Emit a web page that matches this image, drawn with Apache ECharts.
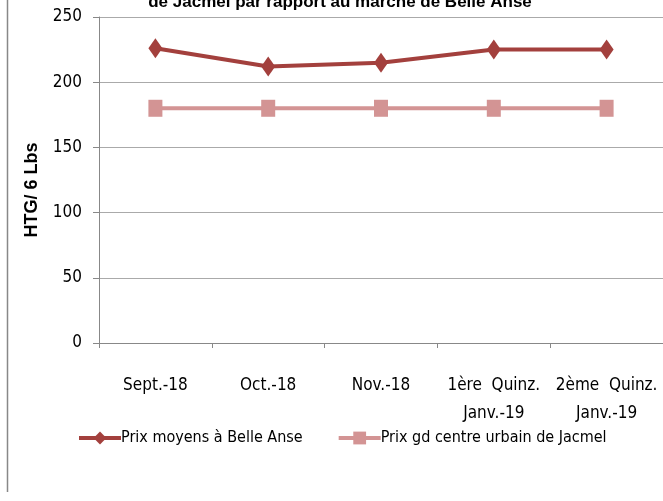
<!DOCTYPE html>
<html><head><meta charset="utf-8">
<script src="https://cdn.jsdelivr.net/npm/echarts@6/dist/echarts.min.js"></script>
<style>html,body{margin:0;padding:0;background:#fff}#c{width:663px;height:501px}</style>
</head><body><div id="c"></div>
<script>
const categories = ['Sept.-18', 'Oct.-18', 'Nov.-18', '1ère  Quinz.\nJanv.-19', '2ème  Quinz.\nJanv.-19'];
const belleAnse = [226, 212, 215, 225, 225];
const jacmel = [180, 180, 180, 180, 180];
const seriesNames = ['Prix moyens à Belle Anse', 'Prix gd centre urbain de Jacmel'];
const titleText = 'de Jacmel par rapport au marché de Belle Anse';
const yName = 'HTG/ 6 Lbs';

const narrow = '"Liberation Sans Narrow","DejaVu Sans Condensed","Noto Sans",sans-serif';
const chart = echarts.init(document.getElementById('c'), null, {renderer: 'canvas'});
chart.setOption({
  animation: false,
  title: {text: titleText, left: 335, textAlign: 'center', top: -11,
    textStyle: {fontFamily: '"Liberation Sans", Arial, sans-serif', fontWeight: 'bold', fontSize: 17, color: '#000'}},
  graphic: [{type: 'line', shape: {x1: 7.5, y1: 0, x2: 7.5, y2: 492}, style: {stroke: '#888', lineWidth: 1.5}}],
  legend: {
    bottom: 50, left: 72, itemGap: 34, itemWidth: 42, itemHeight: 16,
    lineStyle: {width: 4},
    textStyle: {fontFamily: narrow, fontSize: 16, color: '#000', padding: [0, 0, 0, -5]},
    data: seriesNames
  },
  grid: {left: 99, right: -2, top: 17, bottom: 158, containLabel: false},
  xAxis: {
    type: 'category', data: categories, boundaryGap: true,
    axisLine: {lineStyle: {color: '#888'}},
    axisTick: {show: true, length: 5, lineStyle: {color: '#888'}},
    axisLabel: {fontFamily: narrow, fontSize: 17, color: '#000', margin: 29, lineHeight: 28, interval: 0}
  },
  yAxis: {
    type: 'value', min: 0, max: 250, interval: 50,
    name: yName, nameLocation: 'middle', nameGap: 58, nameRotate: 90,
    nameTextStyle: {fontFamily: 'Liberation Sans, Arial, sans-serif', fontWeight: 'bold', fontSize: 18, color: '#000',
      padding: [0, 20, 0, 0]},
    axisLine: {show: true, lineStyle: {color: '#888'}},
    axisTick: {show: true, length: 6, lineStyle: {color: '#888'}},
    splitLine: {show: true, lineStyle: {color: '#aaa'}},
    axisLabel: {fontFamily: narrow, fontSize: 17, color: '#000', margin: 17}
  },
  series: [
    {name: seriesNames[0], type: 'line', data: belleAnse, symbol: 'diamond', symbolSize: [14, 20],
      lineStyle: {color: '#A3403D', width: 4}, itemStyle: {color: '#A3403D'}, z: 3},
    {name: seriesNames[1], type: 'line', data: jacmel, symbol: 'rect', symbolSize: [14, 17],
      lineStyle: {color: '#D39494', width: 4}, itemStyle: {color: '#D39494'}, z: 2}
  ]
});
</script></body></html>
